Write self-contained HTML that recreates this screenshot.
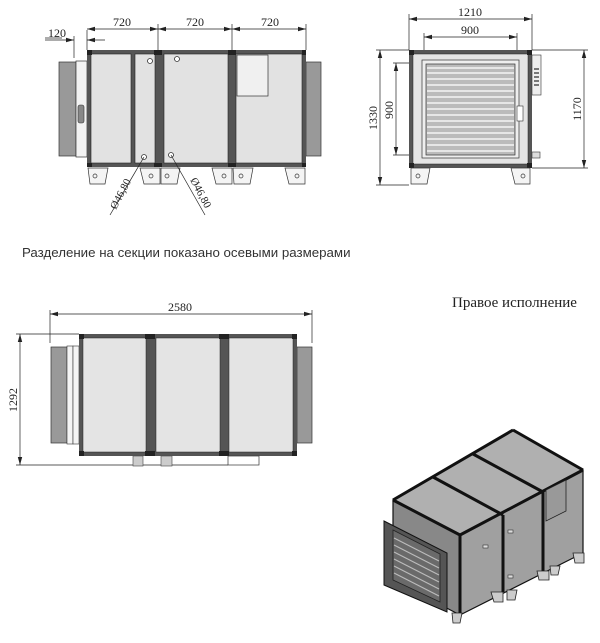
<!DOCTYPE html>
<html><head><meta charset="utf-8"><style>
html,body{margin:0;padding:0;background:#fff;width:600px;height:643px;overflow:hidden}
svg{display:block}
text{font-family:"Liberation Serif",serif;fill:#222}
</style></head><body>
<svg width="600" height="643" viewBox="0 0 600 643" xmlns="http://www.w3.org/2000/svg">
<defs>
<marker id="a" markerWidth="8" markerHeight="6" refX="8" refY="3" orient="auto-start-reverse" markerUnits="userSpaceOnUse"><path d="M0,0.8 L8,3 L0,5.2z" fill="#222"/></marker>
</defs>
<g stroke="#222" stroke-width="0.7" fill="none">
<line x1="87" y1="30" x2="87" y2="50"/><line x1="158" y1="24" x2="158" y2="50"/><line x1="232" y1="24" x2="232" y2="50"/><line x1="306" y1="24" x2="306" y2="50"/>
<line x1="87" y1="29" x2="158" y2="29" marker-start="url(#a)" marker-end="url(#a)"/>
<line x1="158" y1="29" x2="232" y2="29" marker-start="url(#a)" marker-end="url(#a)"/>
<line x1="232" y1="29" x2="306" y2="29" marker-start="url(#a)" marker-end="url(#a)"/>
<line x1="45" y1="40" x2="74" y2="40" marker-end="url(#a)"/><line x1="105" y1="40" x2="87" y2="40" marker-end="url(#a)"/>
<line x1="74" y1="36" x2="74" y2="58"/>
<line x1="45" y1="38" x2="62" y2="38"/>
</g>
<text x="122" y="26" font-size="12" text-anchor="middle">720</text>
<text x="195" y="26" font-size="12" text-anchor="middle">720</text>
<text x="270" y="26" font-size="12" text-anchor="middle">720</text>
<text x="57" y="37" font-size="12" text-anchor="middle">120</text>
<rect x="59" y="62" width="17" height="94" fill="#999" stroke="#333" stroke-width="0.7"/>
<rect x="76" y="61" width="11" height="96" fill="#f2f2f2" stroke="#333" stroke-width="0.7"/>
<rect x="78" y="105" width="6" height="18" rx="2" fill="#888" stroke="#333" stroke-width="0.6"/>
<rect x="306" y="62" width="15" height="94" fill="#999" stroke="#333" stroke-width="0.7"/>
<rect x="87" y="50" width="219" height="117" fill="#555"/>
<rect x="91" y="54" width="40" height="109" fill="#e2e2e2" stroke="#222" stroke-width="0.6"/>
<rect x="135" y="54" width="20" height="109" fill="#e2e2e2" stroke="#222" stroke-width="0.6"/>
<rect x="164" y="54" width="64" height="109" fill="#e2e2e2" stroke="#222" stroke-width="0.6"/>
<rect x="236" y="54" width="66" height="109" fill="#e2e2e2" stroke="#222" stroke-width="0.6"/>
<rect x="237" y="55" width="31" height="41" fill="#f0f0f0" stroke="#333" stroke-width="0.7"/>
<g fill="#222"><rect x="87" y="50" width="5" height="5"/><rect x="154" y="50" width="8" height="5"/><rect x="228" y="50" width="8" height="5"/><rect x="302" y="50" width="4" height="5"/><rect x="87" y="163" width="5" height="4"/><rect x="154" y="163" width="8" height="4"/><rect x="228" y="163" width="8" height="4"/><rect x="302" y="163" width="4" height="4"/></g>
<g fill="#fff" stroke="#333" stroke-width="0.8"><circle cx="150" cy="61" r="2.5"/><circle cx="177" cy="59" r="2.5"/><circle cx="144" cy="157" r="2.5"/><circle cx="171" cy="155" r="2.5"/></g>
<g fill="#f4f4f4" stroke="#333" stroke-width="0.7">
<path d="M88,168 H108 L105,184 H90Z"/><path d="M140,168 H160 V184 H144Z"/><path d="M161,168 H180 L177,184 H161Z"/><path d="M212,168 H232 V184 H216Z"/><path d="M233,168 H253 L250,184 H234Z"/><path d="M285,168 H305 V184 H289Z"/>
</g>
<g fill="none" stroke="#333" stroke-width="0.7"><circle cx="95" cy="176" r="2"/><circle cx="151" cy="176" r="2"/><circle cx="167" cy="176" r="2"/><circle cx="224" cy="176" r="2"/><circle cx="241" cy="176" r="2"/><circle cx="297" cy="176" r="2"/></g>
<g stroke="#222" stroke-width="0.7"><line x1="144" y1="157" x2="110" y2="215"/><line x1="171" y1="155" x2="205" y2="215"/></g>
<text transform="translate(116,210) rotate(-62)" font-size="11">Ø46,80</text>
<text transform="translate(190,180) rotate(62)" font-size="11">Ø46,80</text>

<g stroke="#222" stroke-width="0.7" fill="none">
<line x1="409" y1="14" x2="409" y2="50"/><line x1="532" y1="14" x2="532" y2="50"/>
<line x1="409" y1="19" x2="532" y2="19" marker-start="url(#a)" marker-end="url(#a)"/>
<line x1="424" y1="33" x2="424" y2="62"/><line x1="517" y1="33" x2="517" y2="62"/>
<line x1="424" y1="37" x2="517" y2="37" marker-start="url(#a)" marker-end="url(#a)"/>
<line x1="376" y1="50" x2="409" y2="50"/><line x1="376" y1="185" x2="409" y2="185"/>
<line x1="380" y1="50" x2="380" y2="185" marker-start="url(#a)" marker-end="url(#a)"/>
<line x1="393" y1="63" x2="424" y2="63"/><line x1="393" y1="155" x2="424" y2="155"/>
<line x1="396" y1="63" x2="396" y2="155" marker-start="url(#a)" marker-end="url(#a)"/>
<line x1="532" y1="50" x2="588" y2="50"/><line x1="532" y1="168" x2="588" y2="168"/>
<line x1="584" y1="50" x2="584" y2="168" marker-start="url(#a)" marker-end="url(#a)"/>
</g>
<text x="470" y="16" font-size="12" text-anchor="middle">1210</text>
<text x="470" y="34" font-size="12" text-anchor="middle">900</text>
<text transform="translate(377,118) rotate(-90)" font-size="12" text-anchor="middle">1330</text>
<text transform="translate(393,110) rotate(-90)" font-size="12" text-anchor="middle">900</text>
<text transform="translate(581,109) rotate(-90)" font-size="12" text-anchor="middle">1170</text>
<rect x="409" y="50" width="123" height="118" fill="#555"/>
<rect x="413" y="54" width="115" height="110" fill="#e4e4e4" stroke="#222" stroke-width="0.5"/>
<rect x="422" y="60" width="97" height="98" fill="#eee" stroke="#333" stroke-width="0.7"/>
<rect x="426" y="64" width="89" height="91" fill="#bbb" stroke="#333" stroke-width="0.7"/>
<g stroke="#fff" stroke-width="1.2">
<line x1="427" y1="68" x2="514" y2="68"/><line x1="427" y1="73" x2="514" y2="73"/><line x1="427" y1="79" x2="514" y2="79"/><line x1="427" y1="85" x2="514" y2="85"/><line x1="427" y1="91" x2="514" y2="91"/><line x1="427" y1="97" x2="514" y2="97"/><line x1="427" y1="103" x2="514" y2="103"/><line x1="427" y1="109" x2="514" y2="109"/><line x1="427" y1="115" x2="514" y2="115"/><line x1="427" y1="121" x2="514" y2="121"/><line x1="427" y1="127" x2="514" y2="127"/><line x1="427" y1="133" x2="514" y2="133"/><line x1="427" y1="139" x2="514" y2="139"/><line x1="427" y1="145" x2="514" y2="145"/><line x1="427" y1="151" x2="514" y2="151"/>
</g>
<rect x="517" y="106" width="6" height="15" fill="#fff" stroke="#333" stroke-width="0.6"/>
<rect x="532" y="55" width="9" height="40" fill="#eee" stroke="#333" stroke-width="0.6"/>
<g fill="#777"><rect x="534" y="68" width="5" height="2"/><rect x="534" y="72" width="5" height="2"/><rect x="534" y="76" width="5" height="2"/><rect x="534" y="80" width="5" height="2"/><rect x="534" y="84" width="5" height="2"/></g>
<rect x="532" y="152" width="8" height="6" fill="#ddd" stroke="#333" stroke-width="0.6"/>
<g fill="#222"><rect x="409" y="50" width="5" height="5"/><rect x="527" y="50" width="5" height="5"/><rect x="409" y="163" width="5" height="5"/><rect x="527" y="163" width="5" height="5"/></g>
<g fill="#f4f4f4" stroke="#333" stroke-width="0.7"><path d="M411,168 H430 L427,184 H411Z"/><path d="M511,168 H530 V184 H515Z"/></g>
<g fill="none" stroke="#333" stroke-width="0.7"><circle cx="418" cy="176" r="2"/><circle cx="523" cy="176" r="2"/></g>

<text x="22" y="257" font-size="13.3" style="font-family:'Liberation Sans',sans-serif;fill:#333">Разделение на секции показано осевыми размерами</text>
<text x="452" y="307" font-size="15">Правое исполнение</text>

<g stroke="#222" stroke-width="0.7" fill="none">
<line x1="50" y1="310" x2="50" y2="343"/><line x1="312" y1="310" x2="312" y2="343"/>
<line x1="50" y1="314" x2="312" y2="314" marker-start="url(#a)" marker-end="url(#a)"/>
<line x1="16" y1="334" x2="79" y2="334"/><line x1="16" y1="465" x2="228" y2="465"/>
<line x1="20" y1="334" x2="20" y2="465" marker-start="url(#a)" marker-end="url(#a)"/>
</g>
<text x="180" y="311" font-size="12" text-anchor="middle">2580</text>
<text transform="translate(17,400) rotate(-90)" font-size="12" text-anchor="middle">1292</text>
<rect x="51" y="347" width="16" height="96" fill="#999" stroke="#333" stroke-width="0.7"/>
<rect x="67" y="346" width="6" height="98" fill="#f4f4f4" stroke="#333" stroke-width="0.6"/>
<rect x="73" y="346" width="6" height="98" fill="#f4f4f4" stroke="#333" stroke-width="0.6"/>
<rect x="297" y="347" width="15" height="96" fill="#999" stroke="#333" stroke-width="0.7"/>
<rect x="79" y="334" width="218" height="122" fill="#555"/>
<rect x="83" y="338" width="63" height="114" fill="#e4e4e4" stroke="#222" stroke-width="0.5"/>
<rect x="156" y="338" width="64" height="114" fill="#e4e4e4" stroke="#222" stroke-width="0.5"/>
<rect x="229" y="338" width="64" height="114" fill="#e4e4e4" stroke="#222" stroke-width="0.5"/>
<g fill="#222"><rect x="79" y="334" width="5" height="5"/><rect x="145" y="334" width="10" height="5"/><rect x="219" y="334" width="10" height="5"/><rect x="292" y="334" width="5" height="5"/><rect x="79" y="451" width="5" height="5"/><rect x="145" y="451" width="10" height="5"/><rect x="219" y="451" width="10" height="5"/><rect x="292" y="451" width="5" height="5"/></g>
<g fill="#ccc" stroke="#444" stroke-width="0.6"><rect x="133" y="456" width="10" height="10"/><rect x="161" y="456" width="11" height="10"/></g>
<rect x="228" y="456" width="31" height="9" fill="#fff" stroke="#333" stroke-width="0.7"/>

<g stroke="#111" stroke-width="1.2" stroke-linejoin="round">
<polygon points="393,500 513,430 583,470 460,535" fill="#b0b0b0"/>
<polygon points="460,535 583,470 583,553 460,615" fill="#a0a0a0"/>
<polygon points="393,500 460,535 460,615 393,580" fill="#888"/>
</g>
<g stroke="#111" stroke-width="3">
<line x1="433" y1="477" x2="503" y2="515"/><line x1="473" y1="454" x2="543" y2="492"/>
<line x1="503" y1="515" x2="503" y2="592"/><line x1="543" y1="492" x2="543" y2="572"/>
<line x1="393" y1="500" x2="513" y2="430"/><line x1="513" y1="430" x2="583" y2="470"/><line x1="460" y1="535" x2="583" y2="470"/><line x1="393" y1="500" x2="460" y2="535"/><line x1="460" y1="535" x2="460" y2="615"/>
</g>
<polygon points="546,490 566,480 566,511 546,521" fill="#999" stroke="#222" stroke-width="0.8"/>
<g fill="#ddd" stroke="#333" stroke-width="0.6"><rect x="508" y="530" width="5" height="3"/><rect x="508" y="575" width="5" height="3"/><rect x="483" y="545" width="5" height="3"/></g>
<polygon points="384,521 447,553 447,612 384,585" fill="#555" stroke="#111" stroke-width="1"/>
<polygon points="393,530 440,554 440,602 393,580" fill="#6a6a6a" stroke="#222" stroke-width="0.8"/>
<g stroke="#bbb" stroke-width="1.2"><line x1="394" y1="538" x2="439" y2="561"/><line x1="394" y1="545" x2="439" y2="568"/><line x1="394" y1="552" x2="439" y2="575"/><line x1="394" y1="559" x2="439" y2="582"/><line x1="394" y1="566" x2="439" y2="589"/><line x1="394" y1="573" x2="439" y2="596"/></g>
<g fill="#ccc" stroke="#222" stroke-width="0.8"><path d="M452,613 h10 l-2,10 h-7z"/><path d="M491,592 h12 v10 h-9z"/><path d="M507,590 h10 l-2,10 h-8z"/><path d="M537,571 h12 v9 h-10z"/><path d="M550,566 h10 l-2,9 h-7z"/><path d="M573,553 h11 v10 h-9z"/></g>
</svg>
</body></html>
